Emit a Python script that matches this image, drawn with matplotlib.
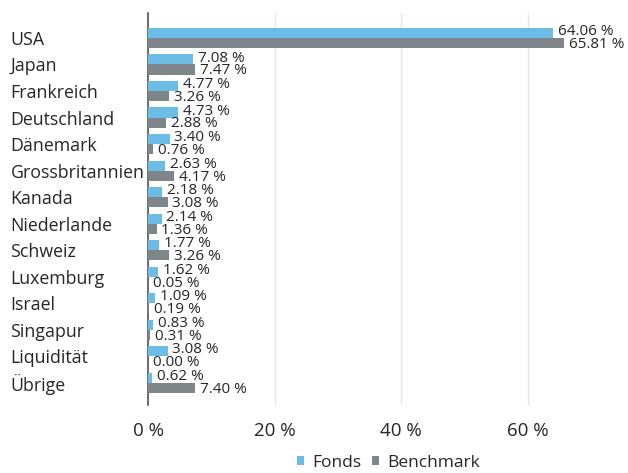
import numpy as np
import matplotlib
matplotlib.use('Agg')
import matplotlib.pyplot as plt

plt.rcParams['font.family'] = ['Open Sans', 'DejaVu Sans']

countries = ['USA', 'Japan', 'Frankreich', 'Deutschland', 'Dänemark', 'Grossbritannien',
             'Kanada', 'Niederlande', 'Schweiz', 'Luxemburg', 'Israel', 'Singapur',
             'Liquidität', 'Übrige']
fonds = [64.06, 7.08, 4.77, 4.73, 3.40, 2.63, 2.18, 2.14, 1.77, 1.62, 1.09, 0.83, 3.08, 0.62]
benchmark = [65.81, 7.47, 3.26, 2.88, 0.76, 4.17, 3.08, 1.36, 3.26, 0.05, 0.19, 0.31, 0.00, 7.40]
ticks = [0, 20, 40, 60]

blue = '#6cbde6'
grey = '#7f8689'
txt = '#262626'

fig = plt.figure(figsize=(6.28, 4.73), dpi=100)
ax = fig.add_axes([0.2357, 0.144, 0.7505, 0.8285])

y = np.arange(len(countries))
h = 0.38
ax.barh(y - h / 2, fonds, height=h, color=blue, label='Fonds', zorder=3)
ax.barh(y + h / 2, benchmark, height=h, color=grey, label='Benchmark', zorder=3)

# value labels, they overlap a bit like in the original
for i in range(len(countries)):
    ax.annotate(f'{fonds[i]:.2f} %', (fonds[i], y[i] - h / 2), xytext=(3.5, 1),
                textcoords='offset points', va='center', ha='left',
                fontsize=11, color=txt, zorder=4)
    ax.annotate(f'{benchmark[i]:.2f} %', (benchmark[i], y[i] + h / 2), xytext=(3.5, -1),
                textcoords='offset points', va='center', ha='left',
                fontsize=11, color=txt, zorder=4)

ax.set_xlim(0, 74.5)
ax.set_ylim(13.83, -0.94)
ax.set_xticks(ticks)
ax.set_xticklabels([f'{t} %' for t in ticks], fontsize=13.5, color=txt)
ax.set_yticks(y)
ax.set_yticklabels(countries, fontsize=12.8, color=txt, ha='left')
ax.tick_params(axis='y', length=0, pad=99)
ax.tick_params(axis='x', length=0, pad=12)

ax.grid(axis='x', color='#e6e6e6', linewidth=1, zorder=0)
for s in ['top', 'right', 'bottom']:
    ax.spines[s].set_visible(False)
ax.spines['left'].set_color('#555555')
ax.spines['left'].set_linewidth(1.2)

leg = ax.legend(loc='center', bbox_to_anchor=(0.51, -0.148), ncol=2, frameon=False,
                fontsize=12.5, handlelength=0.4, handleheight=0.4, handletextpad=0.5,
                columnspacing=0.6)
for t in leg.get_texts():
    t.set_color(txt)

fig.savefig('out.png', dpi=100)
